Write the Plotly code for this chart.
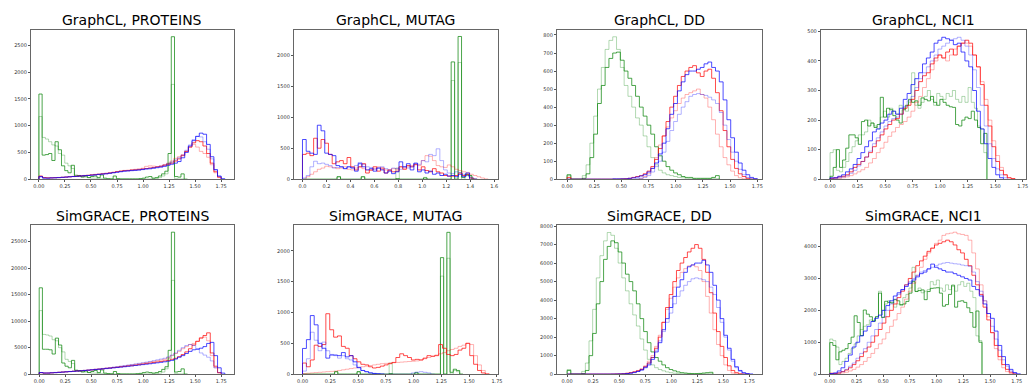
import numpy as np
import plotly.graph_objects as go

# ---------------- bin widths (data units) ----------------
W_SMOOTH = 0.035
W_GREEN_PROT = 0.031
W_GREEN_MUTAG = 0.02887
W_GREEN_NCI1 = 0.0285
W_MUTAG_GCL = 0.031

TITLES = ["GraphCL, PROTEINS", "GraphCL, MUTAG", "GraphCL, DD", "GraphCL, NCI1",
          "SimGRACE, PROTEINS", "SimGRACE, MUTAG", "SimGRACE, DD", "SimGRACE, NCI1"]

# ---------------- GraphCL, PROTEINS ----------------
P1_GREEN = [1590, 450, 460, 480, 350, 700, 550, 250, 160, 120,
            260, 60, 70, 40, 60, 30, 50, 60, 30, 80,
            20, 10, 5, 60, 10, 5, 5, 5, 5, 5,
            5, 10, 20, 40, 50, 20, 30, 60, 100, 150,
            480, 2660, 50, 40, 100, 0]
P1_LGREEN = [1170, 780, 750, 700, 640, 620, 480, 450, 300, 250,
             200, 80, 60, 50, 40, 30, 20, 20, 10, 8,
             5, 5, 5, 5, 5, 5, 5, 5, 5, 5,
             5, 5, 5, 5, 5, 10, 15, 30, 60, 100,
             300, 1770, 10, 5, 5, 0]
P1_RED = [60, 30, 25, 25, 30, 30, 35, 40, 45, 50,
          55, 60, 65, 70, 80, 85, 90, 100, 105, 115,
          125, 140, 150, 160, 160, 170, 175, 180, 190, 200,
          210, 220, 230, 240, 260, 280, 300, 340, 380, 440,
          520, 600, 680, 720, 700, 620, 480, 300, 140, 40]
P1_LRED = [50, 30, 25, 28, 30, 34, 38, 42, 48, 54,
           60, 66, 72, 78, 85, 92, 100, 108, 115, 125,
           135, 145, 155, 165, 170, 178, 185, 195, 205, 240,
           250, 245, 235, 250, 275, 300, 340, 390, 420, 460,
           520, 600, 650, 600, 520, 480, 410, 270, 120, 30]
P1_BLUE = [50, 20, 20, 25, 25, 30, 35, 40, 45, 50,
           55, 60, 65, 70, 75, 80, 90, 95, 100, 110,
           120, 130, 140, 150, 155, 160, 165, 170, 180, 190,
           195, 205, 215, 225, 240, 260, 280, 300, 330, 400,
           500, 620, 720, 800, 860, 840, 650, 420, 180, 60, 10]
P1_LBLUE = [40, 25, 20, 25, 28, 32, 36, 40, 45, 50,
            55, 60, 66, 72, 78, 85, 92, 100, 108, 116,
            125, 135, 145, 155, 160, 168, 175, 182, 190, 198,
            205, 215, 230, 245, 265, 290, 320, 360, 400, 450,
            540, 640, 740, 800, 790, 700, 560, 380, 170, 50]

# ---------------- GraphCL, MUTAG ----------------
MUTAG_GREEN = [0, 0, 0, 0, 0, 0, 0, 0, 0, 0,
               40, 0, 0, 0, 0, 0, 0, 40, 0, 0,
               0, 0, 0, 0, 0, 0, 0, 10, 0, 0,
               0, 0, 0, 0, 0, 20, 0, 0, 0, 0,
               0, 0, 0, 1890, 0, 2300, 30, 80, 60, 0]
MUTAG_LGREEN = [0, 0, 0, 0, 0, 0, 0, 0, 0, 0,
                40, 0, 0, 0, 0, 0, 0, 40, 0, 0,
                0, 0, 0, 0, 0, 0, 0, 180, 0, 0,
                0, 0, 0, 0, 0, 30, 0, 0, 0, 0,
                0, 0, 0, 1590, 0, 1880, 0, 60, 40, 0]
P2_RED = [400, 420, 380, 660, 500, 640, 580, 400, 250, 280,
          300, 250, 350, 200, 150, 200, 250, 100, 150, 200,
          130, 180, 100, 150, 120, 130, 200, 160, 220, 200,
          240, 150, 200, 140, 120, 170, 120, 100, 60, 50,
          50, 60, 100, 60, 80, 20, 0]
P2_LRED = [0, 40, 80, 120, 160, 180, 210, 200, 190, 170,
           180, 200, 160, 150, 180, 200, 170, 150, 140, 170,
           200, 160, 150, 140, 170, 160, 200, 180, 200, 220,
           230, 220, 300, 380, 370, 300, 220, 200, 190, 230,
           200, 160, 140, 120, 110, 80, 60, 40, 20, 5]
P2_BLUE = [640, 450, 420, 400, 870, 780, 420, 400, 380, 220,
           200, 170, 200, 180, 130, 250, 200, 150, 170, 130,
           180, 150, 100, 130, 90, 120, 280, 200, 250, 150,
           260, 120, 150, 100, 130, 80, 100, 60, 80, 50,
           60, 40, 80, 40, 100, 0]
P2_LBLUE = [20, 60, 200, 290, 250, 260, 240, 220, 180, 190,
            200, 170, 200, 190, 220, 270, 240, 200, 190, 160,
            180, 200, 170, 150, 180, 170, 160, 200, 180, 200,
            250, 240, 300, 280, 400, 380, 490, 300, 150, 100,
            90, 120, 110, 80, 60, 30, 10]

# ---------------- GraphCL, DD ----------------
P3_GREEN = [25, 0, 0, 0, 5, 30, 120, 250, 420, 520,
            620, 670, 700, 705, 660, 600, 560, 520, 460, 400,
            350, 300, 250, 180, 130, 100, 70, 50, 35, 25,
            15, 10, 10, 5, 5, 5, 5, 5, 10, 20]
P3_LGREEN = [20, 0, 0, 0, 20, 80, 200, 350, 500, 620,
             720, 770, 790, 720, 620, 520, 460, 400, 340, 300,
             240, 180, 120, 80, 50, 35, 25, 20, 15, 10,
             8, 5, 3, 3, 3, 3, 3, 3, 3, 3]
P3_RED = [10, 0, 0, 0, 0, 0, 0, 0, 0, 0,
          0, 0, 0, 0, 2, 3, 5, 10, 15, 20,
          30, 45, 70, 110, 170, 240, 320, 400, 460, 520,
          570, 600, 620, 630, 590, 570, 600, 610, 560, 480,
          380, 270, 180, 110, 60, 30, 15, 5, 0, 0]
P3_LRED = [0, 0, 0, 0, 0, 0, 0, 0, 0, 0,
           0, 0, 0, 0, 0, 0, 0, 0, 0, 5,
           15, 30, 60, 120, 190, 240, 290, 340, 380, 420,
           450, 470, 480, 490, 500, 470, 450, 400, 330, 250,
           180, 120, 80, 45, 20, 8, 2, 0, 0, 0]
P3_BLUE = [0, 0, 0, 0, 0, 0, 0, 0, 0, 0,
           0, 0, 2, 2, 2, 2, 5, 8, 12, 18,
           25, 40, 60, 90, 140, 200, 280, 360, 420, 490,
           540, 580, 600, 600, 610, 620, 640, 650, 620, 600,
           540, 440, 330, 230, 150, 90, 50, 25, 10, 3]
P3_LBLUE = [0, 0, 0, 0, 0, 0, 0, 0, 0, 0,
            0, 0, 0, 0, 0, 0, 0, 0, 3, 5,
            10, 20, 40, 70, 100, 150, 210, 270, 320, 360,
            400, 430, 460, 470, 475, 470, 465, 455, 440, 420,
            370, 300, 220, 150, 100, 55, 25, 10, 3, 0]

# ---------------- GraphCL, NCI1 ----------------
P4_GREEN = [10, 40, 100, 40, 65, 105, 150, 150, 140, 118,
            195, 200, 180, 190, 175, 185, 277, 210, 240, 235,
            215, 200, 190, 235, 250, 270, 260, 265, 250, 275,
            270, 265, 280, 260, 250, 270, 260, 250, 245, 243,
            185, 180, 200, 210, 205, 230, 200, 175, 120, 155]
P4_LGREEN = [90, 100, 30, 25, 40, 60, 90, 110, 130, 150,
             150, 160, 200, 190, 180, 170, 210, 230, 210, 240,
             230, 220, 250, 240, 230, 260, 360, 250, 240, 260,
             280, 300, 270, 250, 290, 280, 270, 290, 280, 300,
             270, 260, 280, 260, 310, 260, 240, 180, 170, 90]
P4_RED = [3, 5, 8, 10, 15, 25, 40, 50, 60, 75,
          90, 110, 130, 150, 170, 185, 200, 205, 220, 240,
          250, 270, 300, 330, 350, 360, 390, 410, 420, 410,
          430, 440, 420, 450, 460, 470, 460, 420, 380, 320,
          250, 180, 110, 60, 30, 15, 5, 2]
P4_LRED = [1, 2, 3, 5, 8, 12, 18, 25, 32, 40,
           55, 70, 90, 105, 125, 145, 160, 175, 185, 195,
           210, 230, 260, 280, 310, 340, 370, 400, 420, 410,
           400, 420, 440, 450, 460, 460, 450, 420, 380, 330,
           270, 200, 130, 80, 40, 15, 5, 2]
P4_BLUE = [5, 5, 10, 15, 25, 35, 50, 70, 90, 110,
           130, 160, 170, 190, 200, 220, 230, 220, 240, 270,
           290, 320, 340, 360, 390, 410, 430, 460, 470, 480,
           475, 470, 455, 460, 430, 400, 380, 300, 230, 170,
           120, 70, 40, 15, 5]
P4_LBLUE = [2, 3, 5, 8, 12, 20, 30, 45, 60, 75,
            95, 120, 140, 160, 180, 195, 205, 210, 220, 245,
            265, 280, 310, 340, 360, 380, 400, 420, 440, 450,
            460, 470, 475, 480, 470, 450, 420, 370, 310, 250,
            180, 120, 70, 35, 15, 5]

# ---------------- SimGRACE, PROTEINS ----------------
P5_GREEN = [16300, 4700, 4700, 4600, 3800, 6800, 5500, 2100, 1500, 1200,
            2600, 700, 600, 400, 600, 300, 500, 700, 300, 800,
            200, 100, 60, 500, 100, 30, 30, 30, 30, 30,
            80, 150, 300, 400, 300, 200, 300, 500, 900, 1400,
            4500, 26800, 400, 500, 1000, 0]
P5_LGREEN = [12000, 7500, 7400, 7200, 6500, 6300, 5000, 4200, 2800, 2400,
             2000, 800, 600, 500, 400, 300, 200, 200, 100, 80,
             50, 50, 50, 50, 50, 50, 50, 50, 50, 50,
             50, 50, 50, 50, 50, 80, 120, 200, 400, 1000,
             3000, 17700, 100, 50, 50, 0]
P5_RED = [300, 200, 200, 250, 300, 350, 400, 450, 500, 550,
          600, 650, 700, 750, 800, 900, 950, 1000, 1100, 1150,
          1250, 1300, 1400, 1450, 1550, 1600, 1700, 1800, 1900, 2000,
          2100, 2200, 2300, 2400, 2500, 2600, 2800, 3000, 3300, 3700,
          4200, 4800, 5500, 6200, 6800, 7300, 7800, 4000, 1500, 300]
P5_LRED = [250, 200, 220, 260, 300, 340, 390, 440, 490, 540,
           600, 650, 710, 770, 830, 900, 970, 1040, 1120, 1200,
           1280, 1370, 1460, 1550, 1650, 1750, 1850, 1950, 2060, 2170,
           2280, 2400, 2530, 2660, 2800, 3100, 3500, 3900, 4300, 4800,
           5200, 5600, 5800, 6200, 6900, 7000, 6300, 3500, 1200, 200]
P5_BLUE = [300, 200, 200, 240, 280, 330, 380, 430, 480, 530,
           580, 630, 680, 740, 800, 860, 920, 980, 1050, 1110,
           1180, 1250, 1320, 1400, 1480, 1560, 1640, 1720, 1800, 1880,
           1960, 2050, 2140, 2230, 2330, 2450, 2600, 2850, 3200, 3500,
           3900, 4300, 4600, 4700, 4900, 5200, 5800, 6000, 3500, 1200, 200]
P5_LBLUE = [300, 250, 250, 300, 330, 370, 420, 470, 520, 570,
            620, 680, 740, 800, 860, 930, 1000, 1080, 1160, 1240,
            1330, 1420, 1520, 1620, 1720, 1820, 1930, 2040, 2150, 2270,
            2400, 2550, 2700, 2850, 3000, 3250, 3600, 4000, 4500, 5000,
            5400, 5600, 5400, 4800, 4000, 3600, 3200, 2500, 1200, 300]

# ---------------- SimGRACE, MUTAG ----------------
P6_RED = [180, 120, 230, 470, 450, 480, 980, 720, 600, 620,
          450, 420, 300, 250, 200, 160, 150, 120, 100, 110,
          130, 150, 170, 190, 270, 330, 300, 270, 230, 240,
          230, 260, 300, 290, 300, 480, 420, 320, 300, 320,
          390, 420, 500, 300, 160, 60, 20, 0]
P6_LRED = [10, 15, 20, 25, 30, 35, 40, 45, 50, 60,
           70, 80, 90, 100, 110, 120, 130, 140, 150, 160,
           170, 175, 180, 185, 190, 195, 200, 205, 210, 215,
           230, 250, 270, 290, 310, 330, 350, 380, 400, 420,
           450, 470, 500, 480, 300, 150, 60, 10]
P6_BLUE = [417, 560, 950, 800, 500, 420, 260, 310, 310, 300,
           350, 280, 300, 200, 110, 60, 40, 20, 10, 5, 0]
P6_LBLUE = [50, 250, 680, 550, 380, 520, 380, 320, 300, 260,
            300, 250, 230, 150, 100, 60, 40, 25, 15, 10,
            5, 0, 0, 0, 0, 0, 0, 0, 20, 30,
            40, 30, 20, 0]

# ---------------- SimGRACE, DD ----------------
P7_GREEN = [200, 0, 0, 0, 30, 200, 1000, 2200, 3800, 5000,
            6200, 6900, 7200, 7100, 6600, 6000, 5400, 5000, 4500, 3800,
            3000, 2300, 1700, 1200, 900, 700, 500, 350, 250, 180,
            120, 80, 60, 40, 30, 30, 40, 60, 80, 100]
P7_LGREEN = [250, 0, 0, 0, 150, 600, 1800, 3500, 5200, 6400,
             7200, 7650, 7500, 6800, 6000, 5200, 4500, 3800, 3200, 2600,
             1900, 1300, 800, 500, 350, 250, 180, 120, 80, 50,
             30, 20, 20, 20, 20, 20, 20, 20, 20, 20]
P7_RED = [0, 0, 0, 0, 0, 0, 0, 0, 0, 0,
          0, 0, 5, 10, 15, 25, 50, 80, 120, 180,
          250, 400, 600, 900, 1400, 2000, 2800, 3600, 4300, 5000,
          5600, 6000, 6300, 6600, 6800, 7000, 6800, 6200, 5500, 4400,
          3300, 2300, 1500, 900, 450, 200, 80, 20, 0, 0]
P7_LRED = [0, 0, 0, 0, 0, 0, 0, 0, 0, 0,
           0, 0, 0, 5, 10, 20, 40, 80, 130, 200,
           300, 450, 700, 1000, 1500, 2100, 2800, 3500, 4100, 4700,
           5200, 5500, 5700, 5850, 5900, 5800, 5600, 5000, 4200, 3300,
           2400, 1600, 1000, 500, 200, 60, 10, 0, 0, 0]
P7_BLUE = [0, 0, 0, 0, 0, 0, 0, 0, 0, 0,
           0, 0, 3, 5, 10, 15, 30, 60, 100, 150,
           220, 350, 500, 800, 1200, 1700, 2400, 3000, 3600, 4200,
           4700, 5100, 5500, 5800, 5900, 6000, 6000, 6150, 5900, 5500,
           4800, 4000, 3000, 2100, 1400, 800, 400, 200, 80, 30, 10]
P7_LBLUE = [0, 0, 0, 0, 0, 0, 0, 0, 0, 0,
            0, 0, 0, 0, 5, 10, 20, 40, 80, 150,
            250, 400, 600, 900, 1300, 1800, 2300, 2800, 3300, 3800,
            4200, 4500, 4800, 5000, 5150, 5200, 5150, 5100, 5000, 4700,
            4300, 3600, 2800, 2000, 1300, 700, 350, 150, 50, 10]

# ---------------- SimGRACE, NCI1 ----------------
P8_GREEN = [990, 900, 450, 700, 750, 800, 960, 1160, 1830, 1620,
            1210, 2010, 1880, 1800, 1670, 1800, 2540, 1775, 2285, 2250,
            2230, 2335, 2300, 2180, 2200, 2280, 2540, 2900, 2590, 2620,
            2640, 2335, 2590, 2690, 2700, 2710, 2540, 2130, 2180, 2500,
            2790, 2100, 2285, 2300, 2250, 2080, 1930, 1470, 1980, 1000]
P8_LGREEN = [1100, 1050, 850, 300, 400, 500, 650, 800, 950, 1200,
             1400, 1500, 1550, 1700, 1650, 1800, 2600, 2000, 2200, 2300,
             2250, 2100, 2200, 2150, 2400, 2500, 2700, 3350, 2600, 2700,
             2550, 2600, 2650, 2900, 2800, 2950, 2700, 2600, 2800, 2650,
             2750, 2600, 2800, 2900, 2750, 2850, 2600, 2400, 1200, 1050]
P8_RED = [30, 20, 40, 80, 130, 200, 300, 420, 550, 700,
          850, 1000, 1200, 1400, 1600, 1800, 2000, 2200, 2400, 2600,
          2800, 3000, 3200, 3400, 3550, 3700, 3850, 3950, 4050, 4100,
          4150, 4200, 4150, 4050, 3900, 3800, 3600, 3400, 3100, 2800,
          2500, 2100, 1700, 1300, 900, 550, 300, 150, 60, 10]
P8_LRED = [5, 10, 20, 40, 60, 100, 150, 220, 300, 400,
           520, 650, 800, 950, 1100, 1300, 1500, 1700, 1900, 2100,
           2350, 2600, 2850, 3100, 3350, 3600, 3800, 3950, 4100, 4200,
           4350, 4400, 4420, 4450, 4400, 4380, 4350, 4200, 3800, 3300,
           2800, 2300, 1800, 1300, 800, 450, 200, 80, 20]
P8_BLUE = [20, 40, 100, 200, 400, 600, 850, 1000, 1200, 1350,
           1500, 1650, 1750, 1850, 2000, 2150, 2300, 2450, 2550, 2650,
           2750, 2850, 2950, 3050, 3150, 3200, 3300, 3450, 3350, 3300,
           3250, 3200, 3200, 3150, 3100, 3050, 3000, 2950, 2750, 2650,
           2450, 2200, 1900, 1750, 1350, 900, 550, 300, 150, 50, 10]
P8_LBLUE = [5, 15, 40, 80, 150, 250, 350, 500, 650, 800,
            1000, 1200, 1400, 1600, 1800, 2000, 2200, 2350, 2500, 2650,
            2800, 2900, 3000, 3100, 3200, 3250, 3300, 3350, 3400, 3450,
            3480, 3500, 3480, 3460, 3450, 3420, 3400, 3380, 3200, 2900,
            2600, 2300, 1900, 1500, 1100, 750, 450, 250, 100, 30]

# ---------------- axis setup (ranges, ticks) ----------------
X_RANGES = [(-0.077, 1.874), (-0.072, 1.633), (-0.094, 1.793), (-0.084, 1.78),
            (-0.08, 1.874), (-0.078, 1.76), (-0.099, 1.872), (-0.084, 1.837)]
Y_RANGES = [(0, 2793), (0, 2411), (0, 830), (0, 506),
            (0, 28063), (0, 2411), (0, 8030), (0, 4660)]
X_TICKS = [[0, 0.25, 0.5, 0.75, 1.0, 1.25, 1.5, 1.75],
           [0, 0.2, 0.4, 0.6, 0.8, 1.0, 1.2, 1.4, 1.6]]
Y_TICKS = [list(range(0, 2501, 500)), list(range(0, 2001, 500)), list(range(0, 801, 100)),
           list(range(0, 501, 100)), list(range(0, 25001, 5000)), list(range(0, 2001, 500)),
           list(range(0, 8001, 1000)), list(range(0, 4001, 1000))]

C_GREEN = "rgba(0,128,0,0.7)"
C_LGREEN = "rgba(0,128,0,0.3)"
C_RED = "rgba(255,0,0,0.7)"
C_LRED = "rgba(255,0,0,0.3)"
C_BLUE = "rgba(0,0,255,0.7)"
C_LBLUE = "rgba(0,0,255,0.3)"

panels = [
    [(P1_LGREEN, W_GREEN_PROT, C_LGREEN), (P1_GREEN, W_GREEN_PROT, C_GREEN),
     (P1_LRED, W_SMOOTH, C_LRED), (P1_RED, W_SMOOTH, C_RED),
     (P1_LBLUE, W_SMOOTH, C_LBLUE), (P1_BLUE, W_SMOOTH, C_BLUE)],
    [(MUTAG_LGREEN, W_GREEN_MUTAG, C_LGREEN), (MUTAG_GREEN, W_GREEN_MUTAG, C_GREEN),
     (P2_LRED, W_MUTAG_GCL, C_LRED), (P2_RED, W_MUTAG_GCL, C_RED),
     (P2_LBLUE, W_MUTAG_GCL, C_LBLUE), (P2_BLUE, W_MUTAG_GCL, C_BLUE)],
    [(P3_LGREEN, W_SMOOTH, C_LGREEN), (P3_GREEN, W_SMOOTH, C_GREEN),
     (P3_LRED, W_SMOOTH, C_LRED), (P3_RED, W_SMOOTH, C_RED),
     (P3_LBLUE, W_SMOOTH, C_LBLUE), (P3_BLUE, W_SMOOTH, C_BLUE)],
    [(P4_LGREEN, W_GREEN_NCI1, C_LGREEN), (P4_GREEN, W_GREEN_NCI1, C_GREEN),
     (P4_LRED, W_SMOOTH, C_LRED), (P4_RED, W_SMOOTH, C_RED),
     (P4_LBLUE, W_SMOOTH, C_LBLUE), (P4_BLUE, W_SMOOTH, C_BLUE)],
    [(P5_LGREEN, W_GREEN_PROT, C_LGREEN), (P5_GREEN, W_GREEN_PROT, C_GREEN),
     (P5_LRED, W_SMOOTH, C_LRED), (P5_RED, W_SMOOTH, C_RED),
     (P5_LBLUE, W_SMOOTH, C_LBLUE), (P5_BLUE, W_SMOOTH, C_BLUE)],
    [(MUTAG_LGREEN, W_GREEN_MUTAG, C_LGREEN), (MUTAG_GREEN, W_GREEN_MUTAG, C_GREEN),
     (P6_LRED, W_SMOOTH, C_LRED), (P6_RED, W_SMOOTH, C_RED),
     (P6_LBLUE, W_SMOOTH, C_LBLUE), (P6_BLUE, W_SMOOTH, C_BLUE)],
    [(P7_LGREEN, W_SMOOTH, C_LGREEN), (P7_GREEN, W_SMOOTH, C_GREEN),
     (P7_LRED, W_SMOOTH, C_LRED), (P7_RED, W_SMOOTH, C_RED),
     (P7_LBLUE, W_SMOOTH, C_LBLUE), (P7_BLUE, W_SMOOTH, C_BLUE)],
    [(P8_LGREEN, W_GREEN_NCI1, C_LGREEN), (P8_GREEN, W_GREEN_NCI1, C_GREEN),
     (P8_LRED, W_SMOOTH, C_LRED), (P8_RED, W_SMOOTH, C_RED),
     (P8_LBLUE, W_SMOOTH, C_LBLUE), (P8_BLUE, W_SMOOTH, C_BLUE)],
]

# ---------------- layout geometry (pixels) ----------------
FIG_W, FIG_H = 1033, 387
COL_PX = [(31, 235), (295, 500), (559, 765), (824, 1030)]
ROW_PX = [(27, 179), (226, 377)]
TITLE_Y_PX = [17.5, 216.5]


def step_xy(counts, width, start=0.0):
    n = len(counts)
    edges = start + width * np.arange(n + 1)
    xs = [edges[0]] + list(edges[:n]) + [edges[n]]
    ys = [0] + list(counts) + [0]
    return xs, ys


fig = go.Figure()
layout = dict(
    width=FIG_W, height=FIG_H,
    margin=dict(l=0, r=0, t=0, b=0),
    paper_bgcolor="white", plot_bgcolor="white",
    showlegend=False,
    font=dict(family="DejaVu Sans", color="#222"),
)
annotations = []

for k, series in enumerate(panels):
    r, c = divmod(k, 4)
    ax = "" if k == 0 else str(k + 1)
    xa, ya = "x" + ax, "y" + ax
    for counts, width, color in series:
        xs, ys = step_xy(counts, width)
        fig.add_trace(go.Scatter(x=xs, y=ys, mode="lines", line_shape="hv",
                                 line=dict(color=color, width=1.0),
                                 hoverinfo="skip", xaxis=xa, yaxis=ya))
    x0, x1 = COL_PX[c]
    y0, y1 = ROW_PX[r]
    xt = X_TICKS[1] if k == 1 else X_TICKS[0]
    common = dict(showline=True, mirror=True, linecolor="#666", linewidth=1,
                  showgrid=False, zeroline=False, ticks="outside", ticklen=2,
                  tickwidth=0.6, tickcolor="#555",
                  tickfont=dict(size=5, color="#333", family="DejaVu Sans"))
    layout["xaxis" + ax] = dict(domain=[x0 / FIG_W, x1 / FIG_W], range=list(X_RANGES[k]),
                                anchor=ya, tickvals=xt,
                                tickformat=".1f" if k == 1 else ".2f", **common)
    layout["yaxis" + ax] = dict(domain=[1 - y1 / FIG_H, 1 - y0 / FIG_H], range=list(Y_RANGES[k]),
                                anchor=xa, tickvals=Y_TICKS[k], tickformat="d", **common)
    annotations.append(dict(text=TITLES[k], x=(x0 + x1) / 2 / FIG_W,
                            y=1 - TITLE_Y_PX[r] / FIG_H, xref="paper", yref="paper",
                            xanchor="center", yanchor="middle", showarrow=False,
                            font=dict(size=14, color="black", family="DejaVu Sans")))

layout["annotations"] = annotations
fig.update_layout(**layout)
fig.write_html("out.html", config={"displayModeBar": False},
               post_script="document.body.style.margin='0px';document.body.style.padding='0px';")
